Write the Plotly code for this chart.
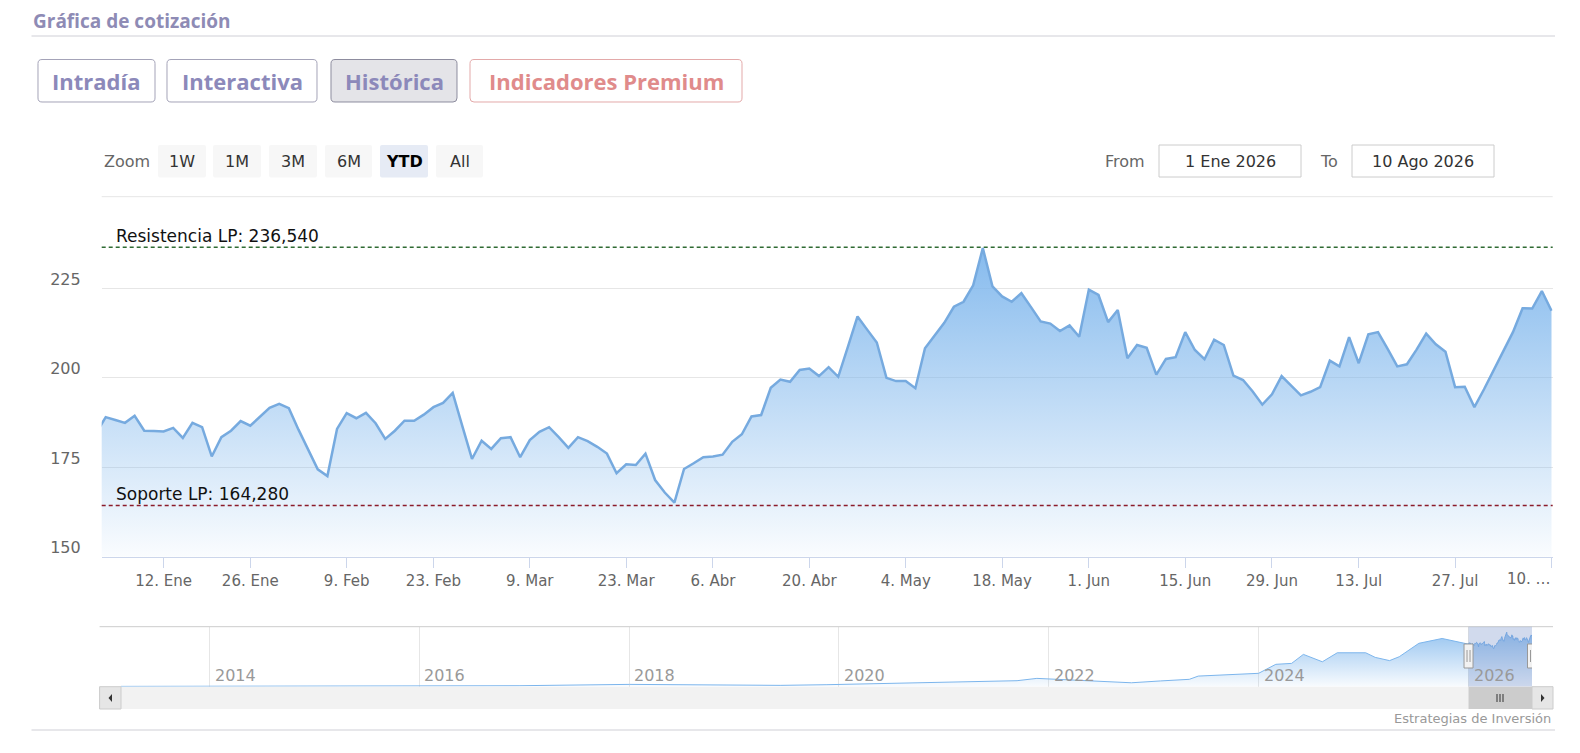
import pandas as pd
import plotly.graph_objects as go

W, H = 1580, 753
PAD = 8  # margen del body de la pagina

# datos de la serie (cierres diarios 2026)
HOLIDAYS = ["2026-01-01", "2026-01-19", "2026-02-16", "2026-04-03",
            "2026-05-25", "2026-06-19", "2026-07-03"]
PREV_DATE = "2025-12-31"
PREV_CLOSE = 184.5
PRICES = [
    189.0, 188.2, 187.4, 189.4, 185.2, 185.1, 185.0, 186.0, 183.2, 187.4,
    186.2, 178.0, 183.4, 185.2, 187.9, 186.6, 189.0, 191.6, 192.7, 191.5,
    185.5, 180.0, 174.4, 172.5, 185.7, 190.1, 188.7, 190.2, 187.3, 182.9,
    185.2, 188.0, 188.0, 189.7, 191.8, 193.0, 195.8, 186.5, 177.3, 182.4,
    180.1, 183.1, 183.4, 177.8, 182.6, 184.9, 186.2, 183.4, 180.4, 183.4,
    182.3, 180.7, 178.8, 173.3, 175.8, 175.6, 178.8, 171.4, 167.9, 165.1,
    174.5, 176.1, 177.8, 178.0, 178.5, 182.1, 184.2, 189.2, 189.6, 197.2,
    199.5, 198.9, 202.2, 202.6, 200.5, 203.0, 200.3, 208.7, 217.2, 213.5,
    209.9, 200.0, 199.1, 199.1, 197.1, 208.3, 212.0, 215.4, 219.9, 221.3,
    225.9, 236.3, 225.6, 222.8, 221.3, 223.7, 219.8, 215.8, 215.2, 213.1,
    214.7, 211.5, 224.7, 223.2, 215.6, 219.0, 205.5, 209.2, 208.4, 200.9,
    205.3, 205.8, 212.8, 207.8, 205.2, 210.7, 209.2, 200.6, 199.4, 196.2,
    192.5, 195.4, 200.5, 197.9, 195.1, 196.1, 197.4, 204.8, 203.2, 211.4,
    204.1, 212.2, 212.8, 208.1, 203.2, 203.8, 207.9, 212.4, 209.4, 207.3,
    197.4, 197.5, 191.8, 196.8, 202.1, 207.5, 212.8, 219.5, 219.4, 224.3,
    218.8,
]
RESIST = 236.54
SUPPORT = 164.28
RANGE_FROM = "2026-01-01"
RANGE_TO = "2026-08-10"

X_TICKS = ["2026-01-12", "2026-01-26", "2026-02-09", "2026-02-23", "2026-03-09",
           "2026-03-23", "2026-04-06", "2026-04-20", "2026-05-04", "2026-05-18",
           "2026-06-01", "2026-06-15", "2026-06-29", "2026-07-13", "2026-07-27",
           "2026-08-10"]
X_LABELS = ["12. Ene", "26. Ene", "9. Feb", "23. Feb", "9. Mar", "23. Mar", "6. Abr",
            "20. Abr", "4. May", "18. May", "1. Jun", "15. Jun", "29. Jun", "13. Jul",
            "27. Jul", "10. …"]
Y_TICKS = [150, 175, 200, 225]

# historico para el navegador
NAV_DATES = ["2013-02-26", "2015-02-17", "2016-12-13", "2018-01-01", "2018-10-04",
             "2019-06-10", "2019-11-20", "2020-07-25", "2021-04-01", "2021-09-12",
             "2021-11-20", "2022-01-25", "2022-05-05", "2022-10-15", "2023-01-25",
             "2023-05-05", "2023-06-05", "2023-10-01", "2024-01-01", "2024-03-01",
             "2024-04-25", "2024-06-05", "2024-08-10", "2024-10-01", "2025-01-08",
             "2025-02-10", "2025-04-01", "2025-05-05", "2025-07-12", "2025-10-01",
             "2025-11-20"]
NAV_VALUES = [1.4, 2.9, 4.3, 10, 8.7, 5.8, 8.7, 14, 22, 26,
              36, 32, 25, 17, 25, 32, 46, 51, 58, 97,
              101, 140, 108, 147, 147, 127, 113, 130, 188, 209,
              195]
NAV_YEARS = [2014, 2016, 2018, 2020, 2022, 2024, 2026]

TABS = ["Intradía", "Interactiva", "Histórica", "Indicadores Premium"]
ZOOM_BTNS = ["1W", "1M", "3M", "6M", "YTD", "All"]

FW, FH = W - 2 * PAD, H - 2 * PAD


def px(x):
    return (x - PAD) / FW


def py(y):
    return 1 - (y - PAD) / FH


def rrect(x0, y0, x1, y1, r=4):
    p = lambda x, y: "%.5f,%.5f" % (px(x), py(y))
    return ("M" + p(x0 + r, y0) + " L" + p(x1 - r, y0) + " Q" + p(x1, y0) + " " + p(x1, y0 + r)
            + " L" + p(x1, y1 - r) + " Q" + p(x1, y1) + " " + p(x1 - r, y1)
            + " L" + p(x0 + r, y1) + " Q" + p(x0, y1) + " " + p(x0, y1 - r)
            + " L" + p(x0, y0 + r) + " Q" + p(x0, y0) + " " + p(x0 + r, y0) + " Z")


trade_days = [d.strftime("%Y-%m-%d") for d in pd.bdate_range("2026-01-02", RANGE_TO)
              if d.strftime("%Y-%m-%d") not in HOLIDAYS]
x_main = [PREV_DATE] + trade_days
y_main = [PREV_CLOSE] + PRICES

main = go.Scatter(
    x=x_main, y=y_main, mode="lines", xaxis="x", yaxis="y",
    line=dict(color="#76aadf", width=2.5),
    fill="tozeroy",
    fillgradient=dict(type="vertical", start=150, stop=236,
                      colorscale=[[0, "rgba(124,181,236,0.04)"], [1, "rgba(124,181,236,0.92)"]]),
    hoverinfo="skip",
)
nav = go.Scatter(
    x=NAV_DATES + x_main, y=NAV_VALUES + y_main, mode="lines", xaxis="x2", yaxis="y2",
    line=dict(color="#7cb5ec", width=1),
    fill="tozeroy",
    fillgradient=dict(type="vertical", start=0, stop=240,
                      colorscale=[[0, "rgba(124,181,236,0.05)"], [1, "rgba(124,181,236,0.8)"]]),
    hoverinfo="skip",
)

shapes = []
annotations = []


def text(x, y, s, size=16, color="#666666", anchor="left", family="DejaVu Sans", weight=None):
    f = dict(size=size, color=color, family=family)
    if weight:
        f["weight"] = weight
    annotations.append(dict(x=px(x), y=py(y), xref="paper", yref="paper", text=s, showarrow=False,
                            xanchor=anchor, yanchor="middle", font=f))


# cabecera
text(31, 21, "Gráfica de cotización", size=19, color="#8e8bb5", family="Open Sans", weight=700)
shapes.append(dict(type="line", xref="paper", yref="paper", x0=px(31.5), x1=px(1555),
                   y0=py(36), y1=py(36), line=dict(color="#cfcfd6", width=1)))

tab_box = [(38, 155), (167, 317), (331, 457), (470, 742)]
for name, (a, b) in zip(TABS, tab_box):
    fill = "#e4e4e8" if name == "Histórica" else "white"
    border = "#e3a9a9" if name == "Indicadores Premium" else ("#8d8c9e" if name == "Histórica" else "#a4a3b8")
    col = "#e08b8b" if name == "Indicadores Premium" else "#8c89ba"
    shapes.append(dict(type="path", xref="paper", yref="paper", path=rrect(a, 59.5, b, 102), fillcolor=fill,
                       line=dict(color=border, width=1)))
    text((a + b) / 2, 81, name, size=22, color=col, anchor="center", family="Open Sans", weight=700)

# selector de zoom
text(102, 161.5, "Zoom", size=16)
zoom_box = [(158, 206), (213, 261), (269, 317), (325, 372), (380, 428), (436, 483)]
for name, (a, b) in zip(ZOOM_BTNS, zoom_box):
    sel = name == "YTD"
    shapes.append(dict(type="path", xref="paper", yref="paper", path=rrect(a, 145, b, 177.5, 2),
                       fillcolor="#e6ebf5" if sel else "#f7f7f7", line=dict(width=0)))
    text((a + b) / 2, 161.5, "<b>%s</b>" % name if sel else name, size=16,
         color="#000000" if sel else "#333333", anchor="center")

# desde / hasta
text(1103, 161, "From", size=16)
text(1318, 161, "To", size=16)
for (a, b), s in [((1159, 1301), "1 Ene 2026"), ((1352, 1494), "10 Ago 2026")]:
    shapes.append(dict(type="rect", xref="paper", yref="paper", x0=px(a), x1=px(b), y0=py(145), y1=py(177),
                       fillcolor="white", line=dict(color="#cccccc", width=1)))
    text((a + b) / 2, 161, s, size=16, color="#333333", anchor="center")

# borde superior del area de trazado
shapes.append(dict(type="line", xref="x domain", yref="y domain", x0=0, x1=1, y0=1, y1=1,
                   line=dict(color="#e6e6e6", width=1), layer="below"))

# soporte y resistencia
for val, col, lbl in [(RESIST, "#2f6b33", "Resistencia LP"), (SUPPORT, "#8b1c2b", "Soporte LP")]:
    shapes.append(dict(type="line", xref="x domain", yref="y", x0=0, x1=1, y0=val, y1=val,
                       line=dict(color=col, width=1.5, dash="4px,3px")))
    annotations.append(dict(x=px(114), xref="paper", y=val, yref="y", yanchor="bottom", xanchor="left",
                            text="%s: %s" % (lbl, ("%.3f" % val).replace(".", ",")), showarrow=False,
                            font=dict(size=17, color="#111111", family="DejaVu Sans"), yshift=-1))

# ultima etiqueta recortada
annotations.append(dict(x=px(1553), y=py(579), xref="paper", yref="paper", xanchor="right", yanchor="middle",
                        text=X_LABELS[-1], showarrow=False, font=dict(size=15, color="#666666", family="DejaVu Sans")))

# navegador
shapes.append(dict(type="line", xref="paper", yref="paper", x0=px(99.6), x1=px(1553), y0=py(626.7), y1=py(626.7),
                   line=dict(color="#cccccc", width=1)))
shapes.append(dict(type="rect", xref="x2", yref="paper", x0=RANGE_FROM, x1=RANGE_TO, y0=py(686.7), y1=py(626.7),
                   fillcolor="rgba(102,133,194,0.3)", line=dict(width=0)))
for yr in NAV_YEARS:
    annotations.append(dict(x="%d-01-01" % yr, xref="x2", y=py(675), yref="paper", xanchor="left",
                            yanchor="middle", xshift=3, text=str(yr), showarrow=False,
                            font=dict(size=16, color="#999999", family="DejaVu Sans")))
# barra de desplazamiento
shapes.append(dict(type="rect", xref="paper", yref="paper", x0=px(99.6), x1=px(1553), y0=py(709), y1=py(686.7),
                   fillcolor="#f2f2f2", line=dict(width=0)))
shapes.append(dict(type="rect", xref="x2", yref="paper", x0=RANGE_FROM, x1=RANGE_TO, y0=py(709), y1=py(686.7),
                   fillcolor="#cccccc", line=dict(width=0)))
for a, b in [(99.6, 121), (1532, 1553)]:
    shapes.append(dict(type="rect", xref="paper", yref="paper", x0=px(a), x1=px(b), y0=py(709), y1=py(686.7),
                       fillcolor="#e6e6e6", line=dict(color="#cccccc", width=1)))
shapes.append(dict(type="path", xref="paper", yref="paper",
                   path="M%.5f,%.5f L%.5f,%.5f L%.5f,%.5f Z" % (px(108.5), py(698), px(112), py(694), px(112), py(702)),
                   fillcolor="#333333", line=dict(width=0)))
shapes.append(dict(type="path", xref="paper", yref="paper",
                   path="M%.5f,%.5f L%.5f,%.5f L%.5f,%.5f Z" % (px(1544.5), py(698), px(1541), py(694), px(1541), py(702)),
                   fillcolor="#333333", line=dict(width=0)))
for dx in (-3, 0, 3):
    shapes.append(dict(type="line", xref="paper", yref="paper", x0=px(1500 + dx), x1=px(1500 + dx),
                       y0=py(702), y1=py(694), line=dict(color="#333333", width=1)))
# asas del selector
for d in (RANGE_FROM, RANGE_TO):
    shapes.append(dict(type="rect", xref="x2", yref="paper", xsizemode="pixel", xanchor=d, x0=-4.5, x1=4.5,
                       y0=py(668), y1=py(644), fillcolor="#f2f2f2", line=dict(color="#999999", width=1)))
    for dx in (-1.5, 1.5):
        shapes.append(dict(type="line", xref="x2", yref="paper", xsizemode="pixel", xanchor=d, x0=dx, x1=dx,
                           y0=py(662), y1=py(650), line=dict(color="#999999", width=1)))

# pie
text(1552.5, 718, "Estrategias de Inversión", size=13, color="#999999", anchor="right")
shapes.append(dict(type="line", xref="paper", yref="paper", x0=px(31.5), x1=px(1555), y0=py(730), y1=py(730),
                   line=dict(color="#cfcfd6", width=1)))

layout = go.Layout(
    width=FW, height=FH, margin=dict(l=0, r=0, t=0, b=0),
    paper_bgcolor="white", plot_bgcolor="white", showlegend=False,
    font=dict(family="DejaVu Sans", color="#666666"),
    xaxis=dict(domain=[px(101.7), px(1552.7)], anchor="y", type="date",
               range=["2025-12-31 14:00", "2026-08-10 03:00"],
               rangebreaks=[dict(bounds=["sat", "mon"]), dict(values=HOLIDAYS)],
               tickvals=X_TICKS, ticktext=X_LABELS[:-1] + [""],
               ticks="outside", ticklen=10, tickcolor="#ccd6eb", showline=True, linecolor="#ccd6eb",
               showgrid=False, zeroline=False, tickfont=dict(size=15, color="#666666")),
    yaxis=dict(domain=[py(556.5), py(196.7)], anchor="x", range=[150, 250.7], tickvals=Y_TICKS,
               gridcolor="#e6e6e6", zeroline=False, showline=False, ticks="",
               tickfont=dict(size=16, color="#666666"), ticklabelstandoff=20, ticklabelshift=-9),
    xaxis2=dict(domain=[px(121), px(1532)], anchor="y2", type="date", range=[NAV_DATES[0], RANGE_TO],
                tickvals=["%d-01-01" % y for y in NAV_YEARS], showticklabels=False,
                showgrid=True, gridcolor="#e6e6e6", ticks="",
                showline=False, zeroline=False),
    yaxis2=dict(domain=[py(686.7), py(626.7)], anchor="x2", range=[0, 260], visible=False),
    shapes=shapes, annotations=annotations,
)

fig = go.Figure(data=[main, nav], layout=layout)
fig.write_html("out.html")
